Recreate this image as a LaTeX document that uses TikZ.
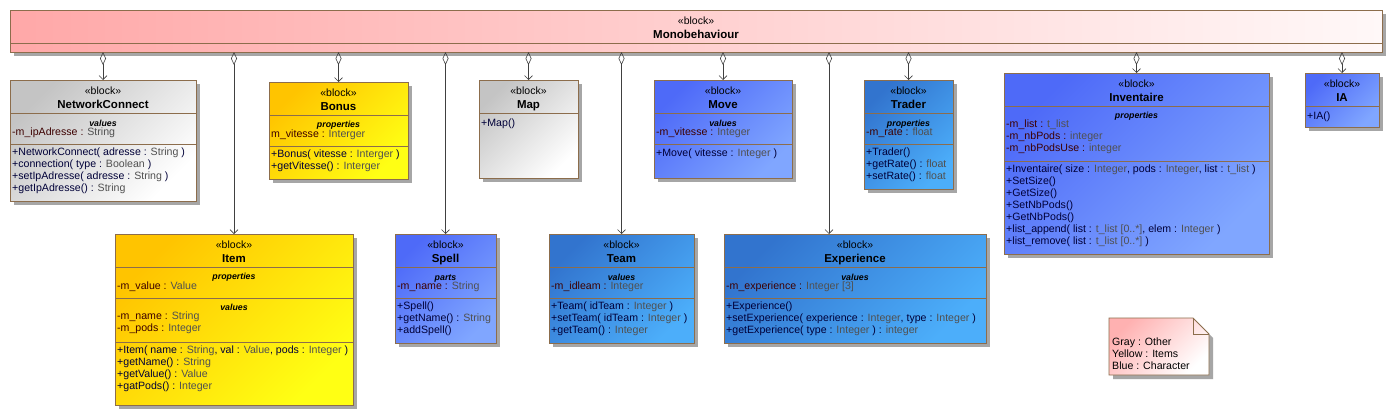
\documentclass[tikz,border=0pt]{standalone}
\usepackage{fontspec}
\setmainfont{Liberation Sans}
\usetikzlibrary{arrows.meta,positioning,calc,shadows}

\definecolor{edge}{HTML}{8C6D4C}
\definecolor{grayA}{HTML}{C4C4C4}
\definecolor{grayB}{HTML}{FFFFFF}
\definecolor{yelA}{HTML}{FFC400}
\definecolor{yelB}{HTML}{FFFF14}
\definecolor{bluA}{HTML}{4E6AF8}
\definecolor{bluB}{HTML}{80A6FF}
\definecolor{stlA}{HTML}{3274CE}
\definecolor{stlB}{HTML}{4CAEFA}
\definecolor{pinkA}{HTML}{FFA8A8}
\definecolor{pinkB}{HTML}{FFF8F8}
\definecolor{attrc}{HTML}{3C0000}
\definecolor{opc}{HTML}{000038}
\definecolor{typc}{HTML}{505050}
\newcommand{\ty}[1]{\textcolor{typc}{#1}}

\begin{document}
\begin{tikzpicture}[
    x=1pt, y=-1pt,
    blk/.style={draw=edge, line width=0.9pt, outer sep=0pt, anchor=north west,
      drop shadow={shadow xshift=4pt, shadow yshift=-4pt, fill=black!35, opacity=1}},
    graybox/.style={blk, left color=grayA, right color=grayB, shading angle=45},
    yelbox/.style={blk, left color=yelA, right color=yelB, shading angle=45},
    blubox/.style={blk, left color=bluA, right color=bluB, shading angle=45},
    stlbox/.style={blk, left color=stlA, right color=stlB, shading angle=45},
    stereo/.style={anchor=base, inner sep=0pt, font=\fontsize{10.5}{12}\selectfont},
    bname/.style={anchor=base, inner sep=0pt, font=\fontsize{11.5}{12}\selectfont\bfseries},
    clabel/.style={anchor=base, inner sep=0pt, font=\fontsize{8.8}{10}\selectfont\bfseries\itshape},
    attrs/.style={anchor=north west, inner sep=0pt, align=left, text=attrc,
      font=\fontsize{10.6}{12}\selectfont, execute at begin node=\strut},
    ops/.style={attrs, text=opc},
    sep/.style={draw=edge, line width=0.9pt},
    aggr/.style={draw=black!75, line width=0.6pt,
      {Diamond[open,length=13pt,width=6pt]}-{Straight Barb[length=4pt,width=8pt]}}
  ]
  \useasboundingbox (0,0) rectangle (1392,415);
  \fill[white] (0,0) rectangle (1392,415);

  % boxes
  \node[blk, left color=pinkA, right color=pinkB, minimum width=1372, minimum height=42] (mono) at (10,10) {};
  \node[graybox, minimum width=186, minimum height=121] (netconn) at (10,80) {};
  \node[yelbox, minimum width=139, minimum height=97] (bonus) at (269,82) {};
  \node[graybox, minimum width=99, minimum height=98] (map) at (479,80) {};
  \node[blubox, minimum width=138, minimum height=98] (move) at (654,80) {};
  \node[stlbox, minimum width=89, minimum height=109] (trader) at (864,80) {};
  \node[blubox, minimum width=265, minimum height=181] (inv) at (1004,73) {};
  \node[blubox, minimum width=74, minimum height=54] (ia) at (1305,73) {};
  \node[yelbox, minimum width=238, minimum height=171] (item) at (115,234) {};
  \node[blubox, minimum width=101, minimum height=109] (spell) at (395,234) {};
  \node[stlbox, minimum width=145, minimum height=109] (team) at (549,234) {};
  \node[stlbox, minimum width=262, minimum height=109] (expe) at (724,234) {};

  % headers
  \foreach \b/\t in {mono/Monobehaviour, netconn/NetworkConnect, bonus/Bonus, map/Map,
      move/Move, trader/Trader, inv/Inventaire, ia/IA, item/Item, spell/Spell,
      team/Team, expe/Experience} {
    \node[stereo] (\b-st) at ($(\b.north)+(0,14)$) {«block»};
    \node[bname] (\b-nm) at ($(\b.north)+(0,28)$) {\t};
    \draw[sep] ($(\b.north west)+(0,33)$) -- ($(\b.north east)+(0,33)$);
  }

  % second separators
  \foreach \b in {netconn,bonus,move,trader,item,spell,team,expe}
    \draw[sep] ($(\b.north west)+(0,64)$) -- ($(\b.north east)+(0,64)$);
  \draw[sep] ($(inv.north west)+(0,88)$) -- ($(inv.north east)+(0,88)$);
  \draw[sep] ($(item.north west)+(0,108)$) -- ($(item.north east)+(0,108)$);

  % NetworkConnect
  \node[clabel] (netconn-l) at ($(netconn.north)+(0,46)$) {values};
  \node[attrs] (netconn-a) at ($(netconn.north west)+(2,47)$) {-m\_ipAdresse : \ty{String}};
  \node[ops] (netconn-o) at ($(netconn.north west)+(2,68)$)
    {+NetworkConnect( adresse : \ty{String} )\\+connection( type : \ty{Boolean} )\\
     +setIpAdresse( adresse : \ty{String} )\\+getIpAdresse() : \ty{String}};

  % Bonus
  \node[clabel] (bonus-l) at ($(bonus.north)+(0,45)$) {properties};
  \node[attrs] (bonus-a) at ($(bonus.north west)+(2,47)$) {m\_vitesse : \ty{Interger}};
  \node[ops] (bonus-o) at ($(bonus.north west)+(2,68)$)
    {+Bonus( vitesse : \ty{Interger} )\\+getVitesse() : \ty{Interger}};

  % Map
  \node[ops] (map-o) at ($(map.north west)+(2,38)$) {+Map()};

  % Move
  \node[clabel] (move-l) at ($(move.north)+(0,46)$) {values};
  \node[attrs] (move-a) at ($(move.north west)+(2,47)$) {-m\_vitesse : \ty{Integer}};
  \node[ops] (move-o) at ($(move.north west)+(2,68)$) {+Move( vitesse : \ty{Integer} )};

  % Trader
  \node[clabel] (trader-l) at ($(trader.north)+(0,46)$) {properties};
  \node[attrs] (trader-a) at ($(trader.north west)+(2,47)$) {-m\_rate : \ty{float}};
  \node[ops] (trader-o) at ($(trader.north west)+(2,68)$)
    {+Trader()\\+getRate() : \ty{float}\\+setRate() : \ty{float}};

  % Inventaire
  \node[clabel] (inv-l) at ($(inv.north)+(0,45)$) {properties};
  \node[attrs] (inv-a) at ($(inv.north west)+(2,47)$)
    {-m\_list : \ty{t\_list}\\-m\_nbPods : \ty{integer}\\-m\_nbPodsUse : \ty{integer}};
  \node[ops] (inv-o) at ($(inv.north west)+(2,92)$)
    {+Inventaire( size : \ty{Integer}, pods : \ty{Integer}, list : \ty{t\_list} )\\
     +SetSize()\\+GetSize()\\+SetNbPods()\\+GetNbPods()\\
     +list\_append( list : \ty{t\_list [0..*]}, elem : \ty{Integer} )\\
     +list\_remove( list : \ty{t\_list [0..*]} )};

  % IA
  \node[ops] (ia-o) at ($(ia.north west)+(2,38)$) {+IA()};

  % Item
  \node[clabel] (item-l1) at ($(item.north)+(0,45)$) {properties};
  \node[attrs] (item-a1) at ($(item.north west)+(2,47)$) {-m\_value : \ty{Value}};
  \node[clabel] (item-l2) at ($(item.north)+(0,76)$) {values};
  \node[attrs] (item-a2) at ($(item.north west)+(2,78)$)
    {-m\_name : \ty{String}\\-m\_pods : \ty{Integer}};
  \node[ops] (item-o) at ($(item.north west)+(2,112)$)
    {+Item( name : \ty{String}, val : \ty{Value}, pods : \ty{Integer} )\\
     +getName() : \ty{String}\\+getValue() : \ty{Value}\\+gatPods() : \ty{Integer}};

  % Spell
  \node[clabel] (spell-l) at ($(spell.north)+(0,46)$) {parts};
  \node[attrs] (spell-a) at ($(spell.north west)+(2,47)$) {-m\_name : \ty{String}};
  \node[ops] (spell-o) at ($(spell.north west)+(2,68)$)
    {+Spell()\\+getName() : \ty{String}\\+addSpell()};

  % Team
  \node[clabel] (team-l) at ($(team.north)+(0,46)$) {values};
  \node[attrs] (team-a) at ($(team.north west)+(2,47)$) {-m\_idleam : \ty{Integer}};
  \node[ops] (team-o) at ($(team.north west)+(2,68)$)
    {+Team( idTeam : \ty{Integer} )\\+setTeam( idTeam : \ty{Integer} )\\+getTeam() : \ty{Integer}};

  % Experience
  \node[clabel] (expe-l) at ($(expe.north)+(0,46)$) {values};
  \node[attrs] (expe-a) at ($(expe.north west)+(2,47)$) {-m\_experience : \ty{Integer [3]}};
  \node[ops] (expe-o) at ($(expe.north west)+(2,68)$)
    {+Experience()\\+setExperience( experience : \ty{Integer}, type : \ty{Integer} )\\
     +getExperience( type : \ty{Integer} ) : \ty{integer}};

  % aggregations
  \coordinate (expe-in) at ($(expe.north west)+(105,0)$);
  \foreach \b in {netconn,item,bonus,spell,map,team,move,trader,inv,ia}
    \draw[aggr] (mono.south -| \b.north) -- (\b.north);
  \draw[aggr] (mono.south -| expe-in) -- (expe-in);

  % legend note
  \draw[draw=edge, line width=0.9pt, left color=pinkA!90, right color=white, shading angle=45,
    drop shadow={shadow xshift=4pt, shadow yshift=-4pt, fill=black!35, opacity=1}]
    (1109,318) -- (1193,318) -- (1209,334) -- (1209,375) -- (1109,375) -- cycle;
  \draw[sep] (1193,318) -- (1193,334) -- (1209,334);
  \node[attrs, text=black] (legend) at (1112,338) {Gray : Other\\Yellow : Items\\Blue : Character};
\end{tikzpicture}
\end{document}
